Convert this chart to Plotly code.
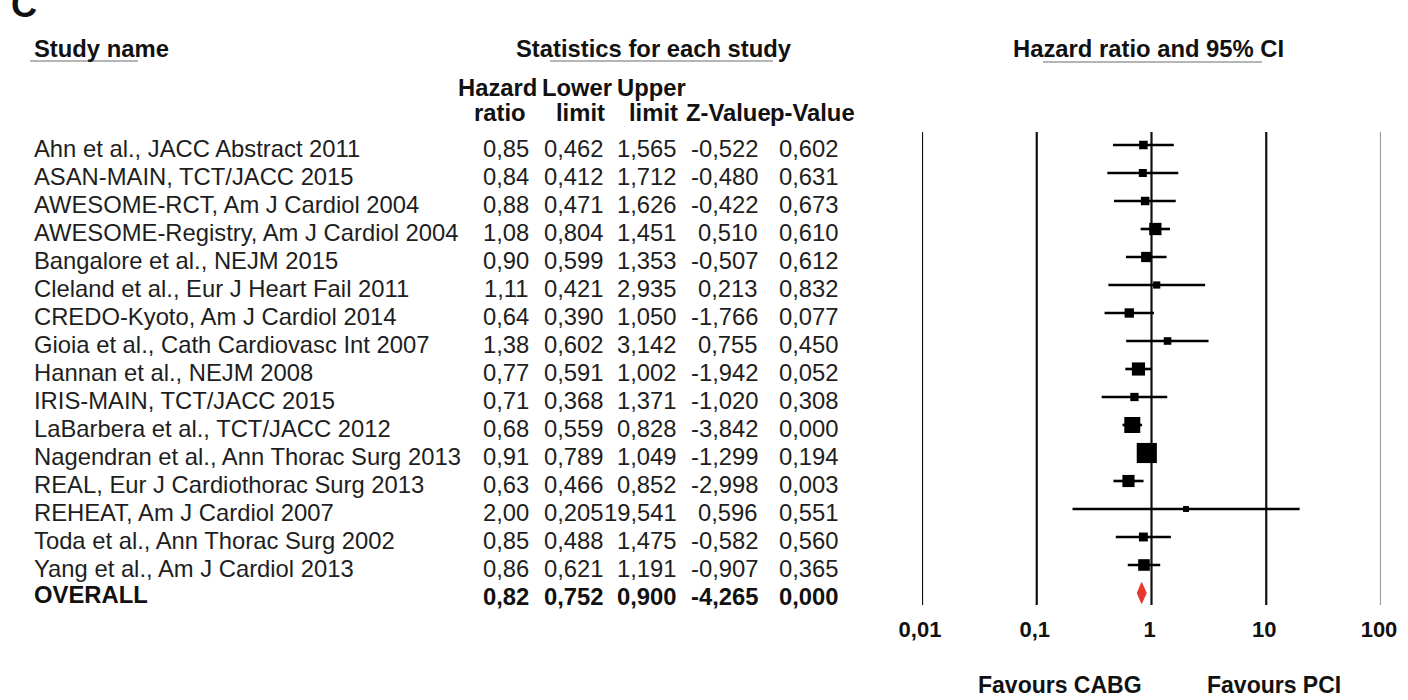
import plotly.graph_objects as go
import numpy as np

studies = [
    "Ahn et al., JACC Abstract 2011",
    "ASAN-MAIN, TCT/JACC 2015",
    "AWESOME-RCT, Am J Cardiol 2004",
    "AWESOME-Registry, Am J Cardiol 2004",
    "Bangalore et al., NEJM 2015",
    "Cleland et al., Eur J Heart Fail 2011",
    "CREDO-Kyoto, Am J Cardiol 2014",
    "Gioia et al., Cath Cardiovasc Int 2007",
    "Hannan et al., NEJM 2008",
    "IRIS-MAIN, TCT/JACC 2015",
    "LaBarbera et al., TCT/JACC 2012",
    "Nagendran et al., Ann Thorac Surg 2013",
    "REAL, Eur J Cardiothorac Surg 2013",
    "REHEAT, Am J Cardiol 2007",
    "Toda et al., Ann Thorac Surg 2002",
    "Yang et al., Am J Cardiol 2013",
]
hr = [0.85, 0.84, 0.88, 1.08, 0.90, 1.11, 0.64, 1.38, 0.77, 0.71, 0.68, 0.91, 0.63, 2.00, 0.85, 0.86]
lower = [0.462, 0.412, 0.471, 0.804, 0.599, 0.421, 0.390, 0.602, 0.591, 0.368, 0.559, 0.789, 0.466, 0.205, 0.488, 0.621]
upper = [1.565, 1.712, 1.626, 1.451, 1.353, 2.935, 1.050, 3.142, 1.002, 1.371, 0.828, 1.049, 0.852, 19.541, 1.475, 1.191]
zval = [-0.522, -0.480, -0.422, 0.510, -0.507, 0.213, -1.766, 0.755, -1.942, -1.020, -3.842, -1.299, -2.998, 0.596, -0.582, -0.907]
pval = [0.602, 0.631, 0.673, 0.610, 0.612, 0.832, 0.077, 0.450, 0.052, 0.308, 0.000, 0.194, 0.003, 0.551, 0.560, 0.365]

overall_label = "OVERALL"
overall_hr = 0.82
overall_lower = 0.752
overall_upper = 0.900
overall_z = -4.265
overall_p = 0.000

xticks = [0.01, 0.1, 1, 10, 100]
xtick_labels = ["0,01", "0,1", "1", "10", "100"]

FONT = "Liberation Sans, Arial, sans-serif"
W, H = 1408, 700
FS = 23.8
TXT = "#1e1e1e"


def px(x):
    return x / W


def py(y):
    return 1 - y / H


def fmt(v, d):
    return f"{v:.{d}f}".replace(".", ",")


n = len(studies)
rows = [-i for i in range(n)]
overall_row = -n

# inverse-variance weights -> marker size
se = [(np.log(u) - np.log(l)) / (2 * 1.96) for l, u in zip(lower, upper)]
w = [1 / s ** 2 for s in se]
sizes = [5 + 1.1 * np.sqrt(v) for v in w]

fig = go.Figure()

# vertical reference lines
for v in xticks:
    fig.add_shape(type="line", xref="x", yref="y domain", x0=v, x1=v, y0=0, y1=1,
                  line=dict(color="#999999" if v == xticks[-1] else "#111111", width=2.2), layer="below")

fig.add_trace(go.Scatter(
    x=hr, y=rows, mode="markers",
    marker=dict(symbol="square", size=sizes, color="black", opacity=1, line=dict(width=0)),
    error_x=dict(type="data", symmetric=False,
                 array=[u - h for u, h in zip(upper, hr)],
                 arrayminus=[h - l for h, l in zip(hr, lower)],
                 width=0, thickness=2.6, color="black"),
    showlegend=False, hoverinfo="skip"))

dh = 0.37
fig.add_trace(go.Scatter(
    x=[overall_lower, overall_hr, overall_upper, overall_hr, overall_lower],
    y=[overall_row, overall_row + dh, overall_row, overall_row - dh, overall_row],
    mode="lines", fill="toself", fillcolor="#e8372b", line=dict(color="#e8372b", width=1),
    showlegend=False, hoverinfo="skip"))

ann = []
# top-left panel letter (cut off in the original)
ann.append(dict(text="<b>C</b>", x=px(9), y=py(27), xref="paper", yref="paper", xanchor="left",
                yanchor="bottom", showarrow=False, font=dict(family=FONT, size=36, color="#111")))

# headers
def hdr(text, x, y, anchor="center", size=FS):
    ann.append(dict(text=f"<b>{text}</b>", x=px(x), y=py(y), xref="paper", yref="paper",
                    xanchor=anchor, yanchor="middle", showarrow=False,
                    font=dict(family=FONT, size=size, color="#111")))

hdr("Study name", 32, 48, "left")
hdr("Statistics for each study", 654, 48)
hdr("Hazard ratio and 95% CI", 1148, 48)
col_h1 = ["Hazard", "Lower", "Upper"]
col_h2 = ["ratio", "limit", "limit", "Z-Value", "p-Value"]
h1x = [497, 577, 651]
h2x = [500, 580, 653, 729, 812]
for t, x in zip(col_h1, h1x):
    hdr(t, x, 88)
for t, x in zip(col_h2, h2x):
    hdr(t, x, 112)

# table rows
colx = [531, 606, 679, 760, 841]
for i in range(n):
    y = rows[i]
    ann.append(dict(text=studies[i], x=px(32), y=y, xref="paper", yref="y", xanchor="left",
                    yanchor="middle", yshift=-3, showarrow=False, font=dict(family=FONT, size=FS, color=TXT)))
    vals = [fmt(hr[i], 2), fmt(lower[i], 3), fmt(upper[i], 3), fmt(zval[i], 3), fmt(pval[i], 3)]
    for v, x in zip(vals, colx):
        ann.append(dict(text=v, x=px(x), y=y, xref="paper", yref="y", xanchor="right",
                        yanchor="middle", yshift=-3, showarrow=False, font=dict(family=FONT, size=FS, color=TXT)))

ann.append(dict(text=f"<b>{overall_label}</b>", x=px(32), y=overall_row, xref="paper", yref="y",
                xanchor="left", yanchor="middle", yshift=-1, showarrow=False,
                font=dict(family=FONT, size=FS, color="#111")))
ovals = [fmt(overall_hr, 2), fmt(overall_lower, 3), fmt(overall_upper, 3), fmt(overall_z, 3), fmt(overall_p, 3)]
for v, x in zip(ovals, colx):
    ann.append(dict(text=f"<b>{v}</b>", x=px(x), y=overall_row, xref="paper", yref="y", xanchor="right",
                    yanchor="middle", yshift=-3, showarrow=False, font=dict(family=FONT, size=FS, color="#111")))

hdr("Favours CABG", 1060, 685, size=23)
hdr("Favours PCI", 1274, 685, size=23)

shapes_ul = [(30, 138, 61), (550, 773, 61), (1043, 1262, 62)]
for x0, x1, y in shapes_ul:
    fig.add_shape(type="line", xref="paper", yref="paper", x0=px(x0), x1=px(x1), y0=py(y), y1=py(y),
                  line=dict(color="#b5b5b5", width=2))

top_px, bot_px = 132, 605
row0_px, rowN_px = 145, 593
unit = (rowN_px - row0_px) / n
y_top = (row0_px - top_px) / unit
y_bot = -n - (bot_px - rowN_px) / unit

fig.update_layout(
    width=W, height=H, margin=dict(l=0, r=0, t=0, b=0, autoexpand=False),
    plot_bgcolor="white", paper_bgcolor="white",
    annotations=ann,
    xaxis=dict(type="log", range=[-2, 2], domain=[px(922), px(1381)],
               tickvals=xticks, ticktext=xtick_labels, showgrid=False, zeroline=False,
               showline=False, ticks="", ticklabelstandoff=9, ticklabelshift=-2, automargin=False,
               tickfont=dict(family=FONT, size=22, color="#111", weight="bold")),
    yaxis=dict(range=[y_bot, y_top], domain=[py(bot_px), py(top_px)], visible=False, automargin=False),
    showlegend=False,
)

fig.write_html("out.html", post_script="document.body.style.margin='0';",
               config={"displayModeBar": False})
